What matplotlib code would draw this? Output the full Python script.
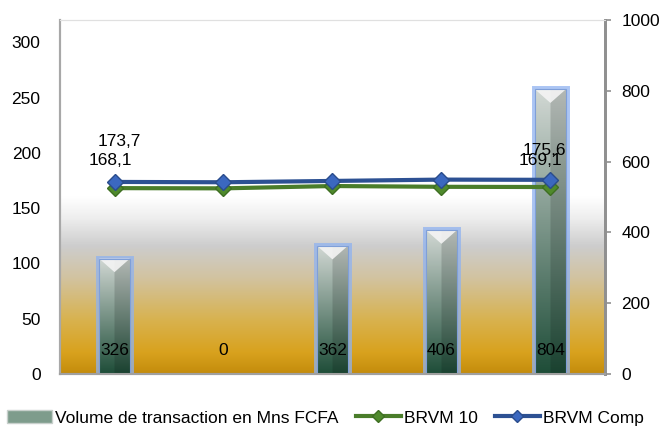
import numpy as np
import matplotlib
matplotlib.use("Agg")
import matplotlib.pyplot as plt
from matplotlib.colors import LinearSegmentedColormap, to_rgb
from matplotlib.patches import Rectangle, Polygon, Patch
from matplotlib.lines import Line2D

plt.rcParams['font.family'] = ['Liberation Sans', 'DejaVu Sans']

days = ['Vendredi', 'Lundi', 'Mardi', 'Mercredi', 'Jeudi']
volume = [326, 0, 362, 406, 804]
brvm10 = [168.1, 167.9, 170.0, 169.3, 169.1]
brvm_comp = [173.7, 173.4, 174.6, 175.8, 175.6]
left_ticks = [0, 50, 100, 150, 200, 250, 300]
right_ticks = [0, 200, 400, 600, 800, 1000]

fig = plt.figure(figsize=(6.64, 4.30), dpi=100)
ax2 = fig.add_axes([0.0904, 0.130, 0.8206, 0.8233])
ax = ax2.twinx()
# lines above bars, left axis on the left
ax.yaxis.tick_left()
ax2.yaxis.tick_right()
ax.set_zorder(ax2.get_zorder() + 1)
ax.patch.set_visible(False)

x = np.arange(len(days))
ax2.set_xlim(-0.5, len(days) - 0.5)
ax2.set_ylim(0, 1000)
ax.set_ylim(0, 320)

# background gradient of the plot area
bg = LinearSegmentedColormap.from_list('bg', [
    (0.00, '#c48c0c'), (0.06, '#d9a21e'), (0.15, '#d8b24e'),
    (0.27, '#d2c3a0'), (0.36, '#cdcdcd'), (0.44, '#eeeeee'),
    (0.50, '#ffffff'), (1.00, '#ffffff')])
grad = np.linspace(0, 1, 256).reshape(-1, 1)
ax2.imshow(grad, cmap=bg, origin='lower', aspect='auto',
           extent=[0, 1, 0, 1], transform=ax2.transAxes, zorder=0)

# bars with a vertical/horizontal gradient, blue glow and bevelled top
w = 0.28
top_c = np.array(to_rgb('#d2d8d4'))
bot_c = np.array(to_rgb('#1e4d38'))
ny, nx = 120, 30
t = np.linspace(0, 1, ny).reshape(-1, 1, 1)
img = bot_c * (1 - t) + top_c * t
img = np.repeat(img, nx, axis=1)
shade = np.ones(nx)
shade[nx // 2:] = 0.85
img = img * shade.reshape(1, -1, 1)
img = np.clip(img, 0, 1)
for xi, v in zip(x, volume):
    if v <= 0:
        continue
    glow = Rectangle((xi - w / 2, 0), w, v, facecolor='none',
                     edgecolor='#8fb2f0', linewidth=5, alpha=0.75, zorder=2)
    ax2.add_patch(glow)
    rect = Rectangle((xi - w / 2, 0), w, v, facecolor='none',
                     edgecolor='#7f9fd8', linewidth=0.8, zorder=4)
    ax2.add_patch(rect)
    im = ax2.imshow(img, origin='lower', aspect='auto',
                    extent=[xi - w / 2, xi + w / 2, 0, v], zorder=3)
    im.set_clip_path(rect)
    bevel = Polygon([(xi - w / 2, v), (xi + w / 2, v), (xi, v - 38)],
                    closed=True, facecolor='#f4f4f4', edgecolor='none',
                    alpha=0.9, zorder=3.5)
    ax2.add_patch(bevel)
ax2.set_xlim(-0.5, len(days) - 0.5)
ax2.set_ylim(0, 1000)

for xi, v in zip(x, volume):
    ax2.text(xi, 68, str(v), ha='center', va='center', fontsize=12.5,
             color='black', zorder=5)

# lines
ax.plot(x, brvm10, color='#4a7d2a', linewidth=3, marker='D', markersize=8,
        markerfacecolor='#4f8a2c', markeredgecolor='#3e6e22', zorder=3)
ax.plot(x, brvm_comp, color='#2d5193', linewidth=3, marker='D', markersize=8,
        markerfacecolor='#3b68c0', markeredgecolor='#2a4c8c', zorder=4)

def fmt(v):
    return f'{v:.1f}'.replace('.', ',')

ax.annotate(fmt(brvm_comp[0]), (x[0], brvm_comp[0]), xytext=(5, 40),
            textcoords='offset pixels', ha='center', va='center', fontsize=12.5)
ax.annotate(fmt(brvm10[0]), (x[0], brvm10[0]), xytext=(-4, 28),
            textcoords='offset pixels', ha='center', va='center', fontsize=12.5)
ax.annotate(fmt(brvm_comp[-1]), (x[-1], brvm_comp[-1]), xytext=(-6, 29),
            textcoords='offset pixels', ha='center', va='center', fontsize=12.5)
ax.annotate(fmt(brvm10[-1]), (x[-1], brvm10[-1]), xytext=(-10, 27),
            textcoords='offset pixels', ha='center', va='center', fontsize=12.5)

# axes styling
ax.set_yticks(left_ticks)
ax.tick_params(axis='y', which='both', length=0, pad=14, labelsize=12.5)
ax2.set_yticks(right_ticks)
ax2.tick_params(axis='y', which='both', length=4, width=1.2, color='#909090',
                direction='out', pad=8, labelsize=12.5)
ax2.set_xticks(x)
ax2.set_xticklabels(days, fontsize=12.5)
ax2.tick_params(axis='x', length=0, pad=4)
ax.set_xticks([])

for a in (ax, ax2):
    a.spines['top'].set_color('#e0e0e0')
    a.spines['left'].set_color('#a8a8a8')
    a.spines['left'].set_linewidth(1.5)
    a.spines['bottom'].set_color('#a0a0a0')
    a.spines['bottom'].set_linewidth(1.5)
    a.spines['right'].set_color('#909090')
    a.spines['right'].set_linewidth(2)

handles = [
    Patch(facecolor='#7e9c8c', edgecolor='#c8d0cc'),
    Line2D([0], [0], color='#4a7d2a', linewidth=3, marker='D', markersize=6,
           markerfacecolor='#4f8a2c', markeredgecolor='#3e6e22'),
    Line2D([0], [0], color='#2d5193', linewidth=3, marker='D', markersize=6,
           markerfacecolor='#3b68c0', markeredgecolor='#2a4c8c'),
]
labels = ['Volume de transaction en Mns FCFA', 'BRVM 10', 'BRVM Comp']
fig.legend(handles, labels, loc='center', bbox_to_anchor=(0.49, 0.028),
           ncol=3, frameon=False, fontsize=12.5, handlelength=2.6,
           handletextpad=0.15, columnspacing=1.0, borderaxespad=0)

fig.savefig('out.png', dpi=100)
